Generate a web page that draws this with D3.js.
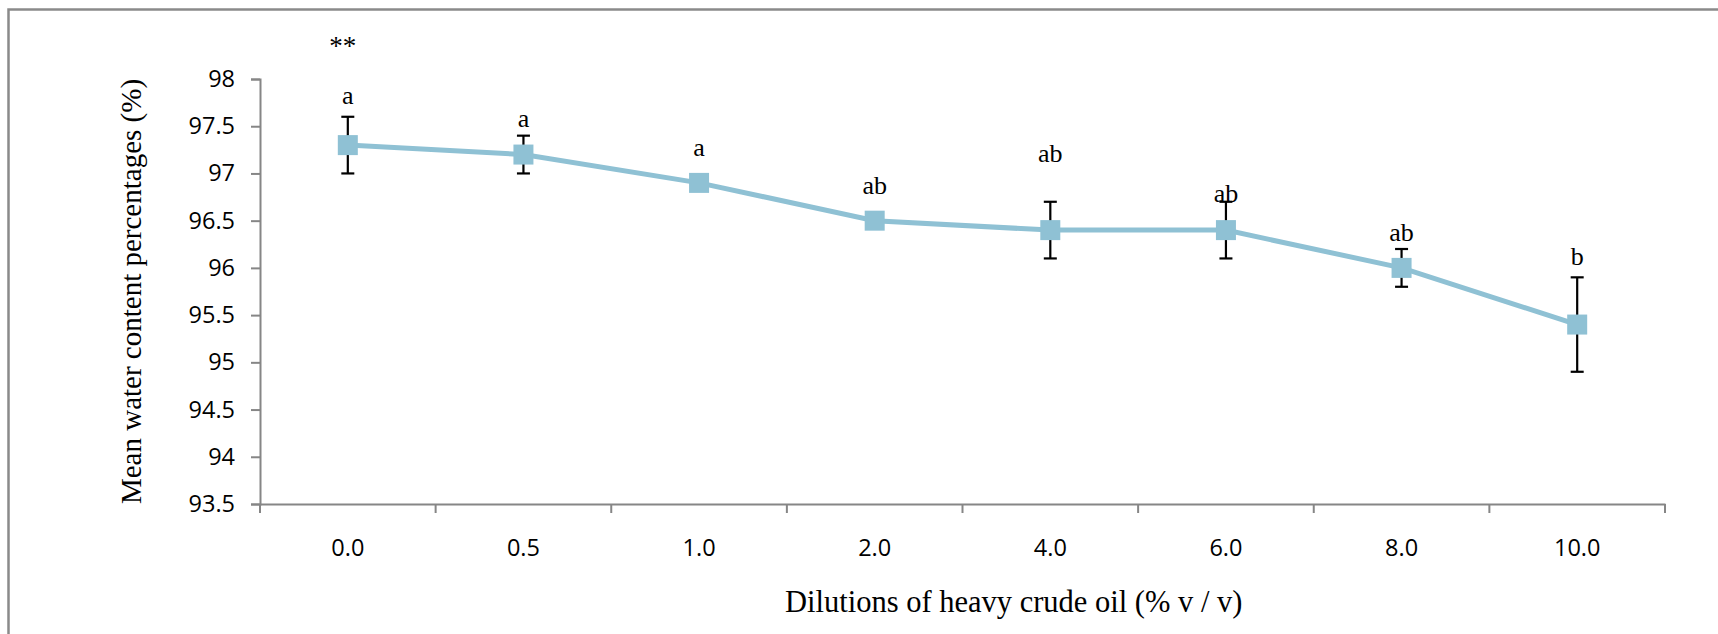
<!DOCTYPE html>
<html lang="en">
<head>
<meta charset="UTF-8">
<title>Mean water content</title>
<style>
  body { margin: 0; background: #fff; }
  svg { display: block; }
</style>
</head>
<body>
<script src="https://d3js.org/d3.v7.min.js"></script>
<script>
// data
var dilutions = ['0.0', '0.5', '1.0', '2.0', '4.0', '6.0', '8.0', '10.0'];
var meanWater = [97.3, 97.2, 96.9, 96.5, 96.4, 96.4, 96.0, 95.4];
var errWater = [0.3, 0.2, 0.05, 0.05, 0.3, 0.3, 0.2, 0.5];
var groupLetters = ['a', 'a', 'a', 'ab', 'ab', 'ab', 'ab', 'b'];
var letterAt = [97.735, 97.49, 97.18, 96.78, 97.12, 96.70, 96.28, 96.03]; // baseline, in axis units
var yTicks = [93.5, 94, 94.5, 95, 95.5, 96, 96.5, 97, 97.5, 98];

var W = 1718, H = 634;
var margin = { top: 79, right: 53, bottom: 130, left: 260 };
var width = W - margin.left - margin.right;
var height = H - margin.top - margin.bottom;

var svg = d3.select('body').append('svg')
  .attr('width', W)
  .attr('height', H);

// outer chart frame (only top and left edges fall inside the picture)
svg.append('rect')
  .attr('x', 8.5).attr('y', 9.5)
  .attr('width', W + 20).attr('height', H + 20)
  .attr('fill', 'none')
  .attr('stroke', '#8a8a8a')
  .attr('stroke-width', 2.5);

var g = svg.append('g')
  .attr('transform', `translate(${margin.left}, ${margin.top})`);

var xScale = d3.scaleBand().domain(dilutions).range([0, width]);
var yScale = d3.scaleLinear().domain([93.5, 98]).range([height, 0]);

var axisColor = '#868686';
var tickFont = '"Open Sans", sans-serif';
var serif = '"Liberation Serif", "Times New Roman", serif';

// y axis
var yAxis = g.append('g')
  .call(d3.axisLeft(yScale).tickValues(yTicks).tickSize(9).tickPadding(16).tickFormat(d => String(d)));
yAxis.select('.domain').attr('stroke', axisColor).attr('stroke-width', 2);
yAxis.selectAll('.tick line').attr('stroke', axisColor).attr('stroke-width', 2);
yAxis.selectAll('.tick text')
  .style('font-family', tickFont)
  .style('font-size', '23.5px')
  .attr('fill', '#000');

// x axis: labels centred in bands, tick marks on the band edges
var xAxis = g.append('g')
  .attr('transform', `translate(0, ${height})`)
  .call(d3.axisBottom(xScale).tickSize(0).tickPadding(0));
xAxis.select('.domain').attr('stroke', axisColor).attr('stroke-width', 2);
xAxis.selectAll('.tick text')
  .attr('y', 52)
  .attr('dy', 0)
  .style('font-family', tickFont)
  .style('font-size', '23.5px')
  .attr('fill', '#000');

var edges = dilutions.map(d => xScale(d)).concat([width]);
xAxis.selectAll('.edge')
  .data(edges)
  .enter().append('line')
  .attr('class', 'edge')
  .attr('x1', d => d).attr('x2', d => d)
  .attr('y1', 0).attr('y2', 9)
  .attr('stroke', axisColor)
  .attr('stroke-width', 2);

var cx = d => xScale(d) + xScale.bandwidth() / 2;

// line
var line = d3.line()
  .x((d, i) => cx(dilutions[i]))
  .y(d => yScale(d));

g.append('path')
  .datum(meanWater)
  .attr('d', line)
  .attr('fill', 'none')
  .attr('stroke', '#8fc1d4')
  .attr('stroke-width', 5);

// error bars
var capW = 13;
var err = g.selectAll('.err')
  .data(meanWater)
  .enter().append('g')
  .attr('class', 'err');

err.append('line')
  .attr('x1', (d, i) => cx(dilutions[i])).attr('x2', (d, i) => cx(dilutions[i]))
  .attr('y1', (d, i) => yScale(d + errWater[i]))
  .attr('y2', (d, i) => yScale(d - errWater[i]));
err.append('line')
  .attr('x1', (d, i) => cx(dilutions[i]) - capW / 2).attr('x2', (d, i) => cx(dilutions[i]) + capW / 2)
  .attr('y1', (d, i) => yScale(d + errWater[i])).attr('y2', (d, i) => yScale(d + errWater[i]));
err.append('line')
  .attr('x1', (d, i) => cx(dilutions[i]) - capW / 2).attr('x2', (d, i) => cx(dilutions[i]) + capW / 2)
  .attr('y1', (d, i) => yScale(d - errWater[i])).attr('y2', (d, i) => yScale(d - errWater[i]));
err.selectAll('line').attr('stroke', '#000').attr('stroke-width', 2.2);

// square markers
var ms = 20;
g.selectAll('.marker')
  .data(meanWater)
  .enter().append('rect')
  .attr('class', 'marker')
  .attr('x', (d, i) => cx(dilutions[i]) - ms / 2)
  .attr('y', d => yScale(d) - ms / 2)
  .attr('width', ms)
  .attr('height', ms)
  .attr('fill', '#8fc1d4');

// significance letters
g.selectAll('.letter')
  .data(groupLetters)
  .enter().append('text')
  .attr('class', 'letter')
  .text(d => d)
  .attr('x', (d, i) => cx(dilutions[i]))
  .attr('y', (d, i) => yScale(letterAt[i]))
  .attr('text-anchor', 'middle')
  .style('font-family', serif)
  .style('font-size', '26px');

g.append('text')
  .text('**')
  .attr('x', cx(dilutions[0]) - 5)
  .attr('y', yScale(98.25))
  .attr('text-anchor', 'middle')
  .style('font-family', serif)
  .style('font-size', '27px');

// axis titles
svg.append('text')
  .text('Mean water content percentages (%)')
  .attr('transform', `translate(141, ${margin.top + height / 2}) rotate(-90)`)
  .attr('text-anchor', 'middle')
  .style('font-family', serif)
  .style('font-size', '29px');

svg.append('text')
  .text('Dilutions of heavy crude oil (% v / v)')
  .attr('x', 785)
  .attr('y', 612)
  .style('font-family', serif)
  .style('font-size', '30.5px');
</script>
</body>
</html>
